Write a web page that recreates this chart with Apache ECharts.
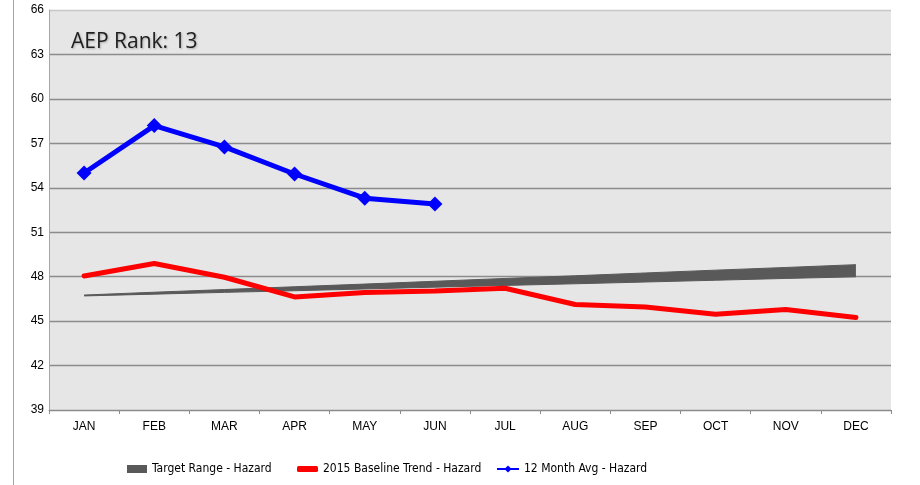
<!DOCTYPE html>
<html>
<head>
<meta charset="utf-8">
<script src="https://cdn.jsdelivr.net/npm/echarts@6/dist/echarts.min.js"></script>
<style>
  html, body { margin: 0; padding: 0; background: #fff; }
  #Echarts { width: 920px; height: 485px; }
</style>
</head>
<body>
<div id="Echarts"></div>
<script>
// data
var months = ['JAN', 'FEB', 'MAR', 'APR', 'MAY', 'JUN', 'JUL', 'AUG', 'SEP', 'OCT', 'NOV', 'DEC'];
var targetLow = [46.70, 46.82, 46.94, 47.05, 47.17, 47.29, 47.41, 47.52, 47.64, 47.76, 47.88, 47.99];
var targetHigh = [46.76, 46.95, 47.13, 47.32, 47.50, 47.69, 47.88, 48.06, 48.25, 48.44, 48.62, 48.81];
var baseline2015 = [48.05, 48.89, 47.96, 46.63, 46.93, 47.04, 47.22, 46.12, 45.96, 45.46, 45.78, 45.24];
var avg12 = [55.0, 58.2, 56.76, 54.93, 53.3, 52.9];
var yTicks = [39, 42, 45, 48, 51, 54, 57, 60, 63, 66];

var fontFam = '"Liberation Sans", Arial, sans-serif';
var legendFont = '"DejaVu Sans Condensed", "Liberation Sans Narrow", "Liberation Sans", sans-serif';

// band thickness stacked on top of the lower edge
var bandWidth = targetHigh.map(function (v, i) { return +(v - targetLow[i]).toFixed(2); });

var chartDom = document.getElementById('Echarts');
var myChart = echarts.init(chartDom, null, { renderer: 'canvas' });

// one legend per item so each sits where the original has it
function legendAt (left, item, w, h) {
    return {
        left: left,
        top: 458,
        itemWidth: w,
        itemHeight: h,
        textStyle: { fontFamily: legendFont, fontSize: 12, color: '#000' },
        data: [item]
    };
}

var option = {
    animation: false,
    backgroundColor: '#ffffff',
    title: {
        text: 'AEP Rank: 13',
        left: 66,
        top: 27,
        textStyle: {
            fontFamily: '"Open Sans", "DejaVu Sans", sans-serif',
            fontSize: 21,
            fontWeight: 'normal',
            color: '#1f1f1f',
            textShadowColor: 'rgba(0,0,0,0.25)',
            textShadowBlur: 2,
            textShadowOffsetX: 1,
            textShadowOffsetY: 1
        }
    },
    graphic: [{
        type: 'line',
        shape: { x1: 13.5, y1: 0, x2: 13.5, y2: 485 },
        style: { stroke: '#a6a6a6', lineWidth: 1 }
    }],
    grid: {
        left: 49,
        right: 29,
        top: 10,
        bottom: 75,
        show: true,
        backgroundColor: '#e6e6e6',
        borderWidth: 0
    },
    legend: [
        legendAt(122, { name: 'Target Range - Hazard', icon: 'rect' }, 20, 8),
        legendAt(292, { name: '2015 Baseline Trend - Hazard', icon: 'roundRect' }, 21, 6),
        legendAt(491, { name: '12 Month Avg - Hazard' }, 22, 9)
    ],
    xAxis: {
        type: 'category',
        data: months,
        boundaryGap: true,
        axisLine: { lineStyle: { color: '#8c8c8c', width: 1 } },
        axisTick: { show: true, length: 4, lineStyle: { color: '#8c8c8c' } },
        axisLabel: { fontFamily: fontFam, fontSize: 12, color: '#000', margin: 11 },
        splitLine: { show: false }
    },
    yAxis: {
        type: 'value',
        min: 39,
        max: 66,
        interval: 3,
        axisLine: { show: true, lineStyle: { color: '#a6a6a6', width: 1 } },
        axisTick: { show: false },
        axisLabel: {
            fontFamily: fontFam, fontSize: 12, color: '#000', margin: 5,
            formatter: function (v) { return yTicks.indexOf(v) >= 0 ? String(v) : ''; }
        },
        splitLine: {
            show: true,
            lineStyle: {
                color: ['#8c8c8c', '#8c8c8c', '#8c8c8c', '#8c8c8c', '#8c8c8c', '#8c8c8c', '#8c8c8c', '#8c8c8c', '#8c8c8c', '#c8c8c8'],
                width: 1.3
            }
        }
    },
    series: [
        {
            name: 'targetBase',
            type: 'line',
            stack: 'target',
            data: targetLow,
            symbol: 'none',
            silent: true,
            lineStyle: { color: '#595959', width: 1 },
            z: 2
        },
        {
            name: 'Target Range - Hazard',
            type: 'line',
            stack: 'target',
            data: bandWidth,
            symbol: 'none',
            color: '#595959',
            lineStyle: { color: '#595959', width: 1 },
            areaStyle: { color: '#595959', opacity: 1 },
            z: 2
        },
        {
            name: '2015 Baseline Trend - Hazard',
            type: 'line',
            data: baseline2015,
            symbol: 'none',
            color: '#ff0000',
            lineStyle: { color: '#ff0000', width: 5, cap: 'round' },
            z: 3
        },
        {
            name: '12 Month Avg - Hazard',
            type: 'line',
            data: avg12,
            symbol: 'diamond',
            symbolSize: 15,
            color: '#0000ff',
            itemStyle: { color: '#0000ff' },
            lineStyle: { color: '#0000ff', width: 5 },
            z: 4
        }
    ]
};

myChart.setOption(option);
</script>
</body>
</html>
